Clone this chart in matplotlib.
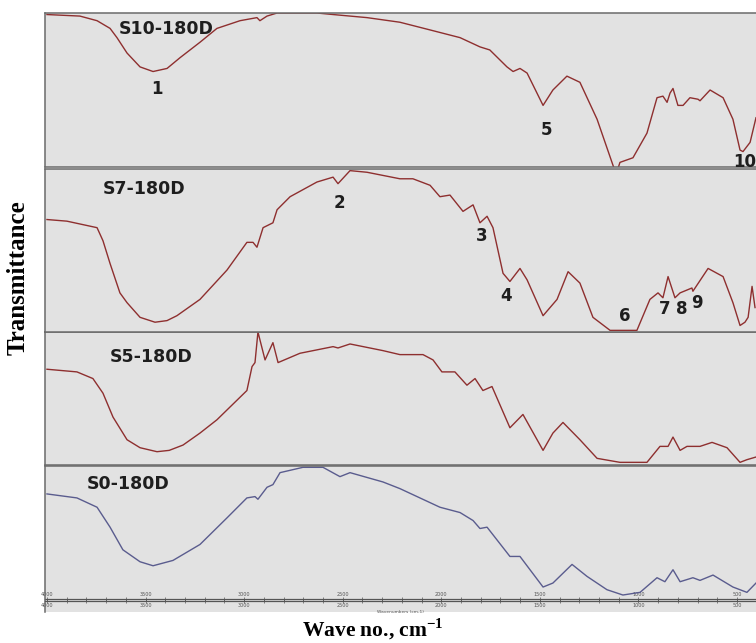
import matplotlib as mpl
from matplotlib import pyplot as plt
from matplotlib.ticker import MultipleLocator

mpl.rcParams['mathtext.fontset'] = 'custom'
mpl.rcParams['mathtext.rm'] = 'Liberation Serif'
mpl.rcParams['mathtext.bf'] = 'Liberation Serif:bold'

# FTIR spectra, wave number (cm-1) vs transmittance (%)
s10_wn = [4000, 3833, 3746, 3680, 3645, 3594, 3528, 3462, 3391, 3325, 3224, 3138, 3021, 2935,
          2920, 2884, 2833, 2631, 2549, 2377, 2210, 2057, 1905, 1804, 1754, 1667, 1636, 1601,
          1565, 1484, 1434, 1363, 1297, 1210, 1129, 1114, 1094, 1028, 957, 906, 876, 855, 840,
          825, 800, 774, 739, 698, 688, 637, 571, 521, 485, 470, 434, 404]
s10_t = [99, 98, 95, 90, 84, 74, 65, 62, 64, 71, 81, 90, 95, 97,
         95, 98, 100, 100, 99, 97, 94, 89, 84, 78, 76, 65, 62, 64,
         61, 40, 50, 59, 55, 31, 1, -5, 3, 6, 22, 45, 46, 42, 48,
         51, 40, 40, 45, 44, 43, 50, 45, 31, 11, 10, 16, 32]

s7_wn = [4000, 3899, 3746, 3716, 3680, 3630, 3594, 3528, 3452, 3391, 3341, 3224, 3087, 2986,
         2955, 2935, 2904, 2854, 2833, 2767, 2631, 2549, 2524, 2463, 2377, 2210, 2144, 2057,
         2007, 1956, 1890, 1839, 1804, 1768, 1738, 1687, 1652, 1601, 1565, 1484, 1413, 1357,
         1297, 1231, 1144, 1008, 942, 901, 876, 850, 815, 789, 729, 724, 647, 571, 521, 485,
         460, 444, 424, 409]
s7_t = [69, 68, 64, 56, 42, 24, 18, 9, 6, 7, 10, 20, 38, 55,
        55, 52, 64, 67, 75, 83, 92, 95, 91, 99, 98, 94, 94, 90,
        83, 84, 74, 78, 67, 71, 64, 36, 31, 39, 32, 10, 20, 37,
        30, 9, 1, 1, 20, 24, 21, 34, 21, 24, 27, 25, 39, 34, 18, 4,
        6, 9, 28, 15]

s5_wn = [4000, 3848, 3767, 3716, 3665, 3594, 3528, 3442, 3380, 3310, 3224, 3138, 2986, 2960,
         2945, 2930, 2894, 2854, 2828, 2717, 2549, 2524, 2463, 2296, 2210, 2093, 2042, 1997,
         1931, 1870, 1829, 1789, 1743, 1652, 1586, 1484, 1434, 1383, 1297, 1210, 1094, 957,
         891, 850, 825, 789, 754, 688, 627, 551, 485, 450, 404]
s5_t = [72, 70, 65, 54, 36, 19, 13, 10, 11, 15, 24, 34, 56, 74,
        77, 100, 79, 92, 77, 84, 89, 88, 91, 86, 83, 83, 79, 70,
        70, 60, 65, 56, 59, 28, 38, 11, 24, 32, 19, 5, 2, 2,
        14, 14, 21, 11, 14, 14, 17, 13, 2, 4, 6]

s0_wn = [4000, 3848, 3746, 3680, 3615, 3528, 3462, 3361, 3224, 3087, 2986, 2945, 2930, 2884,
         2854, 2818, 2702, 2600, 2514, 2463, 2296, 2210, 2007, 1905, 1839, 1804, 1768, 1652,
         1601, 1484, 1434, 1337, 1261, 1160, 1079, 992, 906, 866, 825, 789, 724, 688, 622,
         521, 450, 404]
s0_t = [79, 76, 69, 54, 37, 28, 25, 29, 41, 61, 76, 77, 75, 84,
        86, 95, 99, 99, 92, 95, 88, 83, 69, 65, 59, 53, 54, 32,
        32, 9, 12, 26, 17, 7, 3, 5, 16, 13, 22, 13, 16, 14, 18,
        9, 5, 12]

sample_names = ['S10-180D', 'S7-180D', 'S5-180D', 'S0-180D']
name_pos = [(3396, 89.6), (3508, 87.7), (3473, 81), (3589, 86.5)]

# band numbers written next to the spectra
s10_bands = ['1', '5', '10']
s10_band_pos = [(3442, 50.6), (1464, 24), (460, 3.2)]
s7_bands = ['2', '3', '4', '6', '7', '8', '9']
s7_band_pos = [(2519, 79), (1794, 59), (1672, 22), (1068, 9.8), (866, 14), (779, 14), (703, 17.8)]

wn_ticks = [4000, 3500, 3000, 2500, 2000, 1500, 1000, 500]

red = '#8e2f2f'
blue = '#5a5c8e'
grey_bg = '#e2e2e2'
frame = '#6a6a6a'

fig = plt.figure(figsize=(7.56, 6.43), dpi=100)

left = 45 / 756
width = 1 - left
# (bottom, height, y lower limit) for each strip
boxes = [(1 - 167 / 643, 154 / 643, 0),
         (1 - 332 / 643, 163 / 643, 0),
         (1 - 465 / 643, 133 / 643, 0),
         (1 - 612 / 643, 146 / 643, -9.77)]
spectra = [(s10_wn, s10_t, red), (s7_wn, s7_t, red), (s5_wn, s5_t, red), (s0_wn, s0_t, blue)]

axes = []
for i in range(4):
    bottom, height, ylo = boxes[i]
    ax = fig.add_axes([left, bottom, width, height], zorder=5 - i)
    ax.set_facecolor(grey_bg)
    wn, t, c = spectra[i]
    ax.plot(wn, t, color=c, lw=1.0, solid_joinstyle='round')
    ax.set_xlim(4010, 404)
    ax.set_ylim(ylo, 100)
    ax.set_xticks([])
    ax.set_yticks([])
    ax.spines['right'].set_visible(False)
    for s in ['top', 'left', 'bottom']:
        ax.spines[s].set_color(frame)
        ax.spines[s].set_linewidth(1.1)
    ax.text(name_pos[i][0], name_pos[i][1], sample_names[i], ha='center', va='center',
            fontsize=12.5, fontweight='bold', color='#1e1e1e', family='DejaVu Sans')
    axes.append(ax)

for lab, (x, y) in zip(s10_bands, s10_band_pos):
    axes[0].text(x, y, lab, ha='center', va='center', fontsize=12,
                 fontweight='bold', color='#1e1e1e')
for lab, (x, y) in zip(s7_bands, s7_band_pos):
    axes[1].text(x, y, lab, ha='center', va='center', fontsize=12,
                 fontweight='bold', color='#1e1e1e')

# instrument wavenumber scale inside the last strip
ax4 = axes[3]
ax4.spines['bottom'].set_position(('data', -1.5))
ax4.spines['bottom'].set_color('#555555')
ax4.spines['bottom'].set_linewidth(0.9)
ax4.set_xticks(wn_ticks)
ax4.set_xticklabels([str(v) for v in wn_ticks])
ax4.xaxis.set_minor_locator(MultipleLocator(100))
ax4.tick_params(axis='x', which='both', direction='inout', length=2.5, width=0.5,
                colors='#555555', labelsize=3.5, pad=0.5)
ax4.set_xlabel('Wavenumbers (cm-1)', fontsize=3.2, color='#555555', labelpad=1)

sec = ax4.secondary_xaxis(9.77 / 109.77)
sec.set_alignment('top')
sec.spines['top'].set_color('#555555')
sec.spines['top'].set_linewidth(0.9)
sec.set_xticks(wn_ticks)
sec.set_xticklabels([str(v) for v in wn_ticks])
sec.xaxis.set_minor_locator(MultipleLocator(100))
sec.tick_params(axis='x', which='both', direction='inout', length=2.5, width=0.5,
                colors='#555555', labelsize=3.5, pad=0.5)

fig.text(18 / 756, 1 - 278 / 643, 'Transmittance', rotation=90, ha='center', va='center',
         fontsize=18, fontweight='bold', family='Liberation Serif')
fig.text(373 / 756, 1 - 629 / 643, r'Wave no., cm$^{\mathbf{-1}}$', ha='center', va='center',
         fontsize=15.5, fontweight='bold', family='Liberation Serif')

plt.savefig('out.png', dpi=100)
